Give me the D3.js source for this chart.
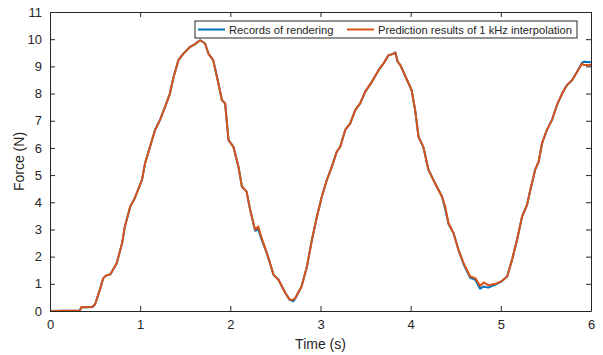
<!DOCTYPE html>
<html>
<head>
<meta charset="utf-8">
<script src="https://cdn.jsdelivr.net/npm/d3@7"></script>
<style>
  body { margin: 0; background: #fff; }
  text { font-family: Arial, "Liberation Sans", Helvetica, sans-serif; fill: #262626; }
</style>
</head>
<body>
<script>

// time samples (s)
var time = [0, 0.33, 0.35, 0.40, 0.47, 0.50, 0.55, 0.59, 0.62, 0.67, 0.74, 0.80, 0.83, 0.89, 0.94,
    1.02, 1.054, 1.11, 1.165, 1.22, 1.276, 1.33, 1.37, 1.424, 1.48, 1.554, 1.60, 1.665, 1.72, 1.757,
    1.81, 1.868, 1.906, 1.942, 1.98, 2.034, 2.09, 2.128, 2.18, 2.22, 2.275, 2.31, 2.35, 2.405, 2.48,
    2.534, 2.61, 2.66, 2.70, 2.72, 2.79, 2.85, 2.905, 2.96, 3.015, 3.07, 3.126, 3.18, 3.22, 3.274,
    3.33, 3.385, 3.44, 3.496, 3.57, 3.644, 3.70, 3.754, 3.80, 3.83, 3.856, 3.885, 3.92, 3.977, 4.01,
    4.05, 4.087, 4.14, 4.198, 4.27, 4.347, 4.383, 4.42, 4.476, 4.53, 4.587, 4.66, 4.717, 4.77, 4.81,
    4.86, 4.94, 5.01, 5.07, 5.124, 5.18, 5.235, 5.29, 5.327, 5.38, 5.42, 5.457, 5.51, 5.568, 5.623,
    5.68, 5.734, 5.79, 5.846, 5.90, 5.92, 6.0];

// Records of rendering (N)
var recorded = [0, 0.02, 0.15, 0.14, 0.15, 0.25, 0.75, 1.2, 1.3, 1.35, 1.76, 2.5, 3.1, 3.84, 4.15,
    4.82, 5.43, 6.05, 6.66, 7.03, 7.51, 8.0, 8.6, 9.23, 9.47, 9.72, 9.8, 9.96, 9.84, 9.47,
    9.23, 8.37, 7.76, 7.64, 6.29, 6.04, 5.31, 4.58, 4.39, 3.72, 2.95, 3.0, 2.6, 2.13, 1.33,
    1.15, 0.66, 0.41, 0.36, 0.46, 0.9, 1.64, 2.62, 3.47, 4.21, 4.82, 5.31, 5.86, 6.05, 6.66,
    6.9, 7.39, 7.64, 8.07, 8.43, 8.86, 9.11, 9.41, 9.45, 9.52, 9.17, 9.05, 8.8, 8.37, 8.13,
    7.39, 6.41, 6.04, 5.19, 4.7, 4.21, 3.75, 3.2, 2.86, 2.25, 1.72, 1.22, 1.15, 0.82, 0.9,
    0.86, 0.97, 1.09, 1.27, 1.88, 2.62, 3.47, 3.9, 4.45, 5.19, 5.5, 6.17, 6.66, 7.03, 7.58,
    8.0, 8.31, 8.49, 8.8, 9.13, 9.17, 9.15];

// Prediction results of 1 kHz interpolation (N)
var predicted = [0, 0.02, 0.15, 0.14, 0.15, 0.25, 0.75, 1.2, 1.3, 1.35, 1.76, 2.5, 3.1, 3.84, 4.15,
    4.82, 5.43, 6.05, 6.66, 7.03, 7.51, 8.0, 8.6, 9.23, 9.47, 9.72, 9.8, 9.96, 9.84, 9.47,
    9.23, 8.37, 7.76, 7.64, 6.29, 6.04, 5.31, 4.58, 4.39, 3.72, 2.99, 3.11, 2.66, 2.13, 1.33,
    1.15, 0.66, 0.41, 0.42, 0.48, 0.9, 1.64, 2.62, 3.47, 4.21, 4.82, 5.31, 5.86, 6.05, 6.66,
    6.9, 7.39, 7.64, 8.07, 8.43, 8.86, 9.11, 9.41, 9.45, 9.5, 9.17, 9.05, 8.8, 8.37, 8.13,
    7.39, 6.41, 6.04, 5.19, 4.7, 4.21, 3.84, 3.23, 2.86, 2.25, 1.76, 1.27, 1.21, 0.92, 1.05,
    0.95, 1.0, 1.1, 1.27, 1.88, 2.62, 3.47, 3.9, 4.45, 5.19, 5.5, 6.17, 6.66, 7.03, 7.58,
    8.0, 8.31, 8.49, 8.8, 9.1, 9.05, 9.05];

var seriesNames = ["Records of rendering", "Prediction results of 1 kHz interpolation"];
var xTicks = [0, 1, 2, 3, 4, 5, 6];
var yTicks = [0, 1, 2, 3, 4, 5, 6, 7, 8, 9, 10, 11];

var margin = {top: 12, right: 12, bottom: 44, left: 50},
    width = 603 - margin.left - margin.right,
    height = 355 - margin.top - margin.bottom;

var colors = ["#0072BD", "#D95319"];
var axisColor = "#262626";

var x = d3.scaleLinear().domain([0, 6]).range([0, width]);
var y = d3.scaleLinear().domain([0, 11]).range([height, 0]);

var svg = d3.select("body").append("svg")
    .attr("width", 603)
    .attr("height", 355);

var main = svg.append("g")
    .attr("transform", "translate(" + margin.left + "," + margin.top + ")");

var line = d3.line()
    .x(function(d) { return x(d[0]); })
    .y(function(d) { return y(d[1]); });

[recorded, predicted].forEach(function(vals, i) {
    var pts = time.map(function(t, j) { return [t, vals[j]]; });
    main.append("path")
	.datum(pts)
	.attr("fill", "none")
	.attr("stroke", colors[i])
	.attr("stroke-width", 2)
	.attr("stroke-linejoin", "round")
	.attr("d", line);
});

// axes, MATLAB-style with inward ticks
function styleAxis(g) {
    g.selectAll("path").attr("stroke", axisColor);
    g.selectAll("line").attr("stroke", axisColor);
    g.selectAll("text").attr("fill", axisColor).style("font-size", "13px")
	.style("font-family", "Arial, 'Liberation Sans', sans-serif");
}

main.append("g")
    .attr("transform", "translate(0," + height + ")")
    .call(d3.axisBottom(x).tickValues(xTicks).tickFormat(d3.format("d"))
	.tickSizeInner(-5).tickSizeOuter(0).tickPadding(9))
    .call(styleAxis);

main.append("g")
    .call(d3.axisLeft(y).tickValues(yTicks).tickFormat(d3.format("d"))
	.tickSizeInner(-5).tickSizeOuter(0).tickPadding(8))
    .call(styleAxis);

main.append("g")
    .call(d3.axisTop(x).tickValues(xTicks).tickSizeInner(-5).tickSizeOuter(0).tickFormat(""))
    .call(styleAxis);

main.append("g")
    .attr("transform", "translate(" + width + ",0)")
    .call(d3.axisRight(y).tickValues(yTicks).tickSizeInner(-5).tickSizeOuter(0).tickFormat(""))
    .call(styleAxis);

// axis labels
svg.append("text")
    .attr("x", margin.left + width / 2)
    .attr("y", 349)
    .attr("text-anchor", "middle")
    .style("font-size", "14px")
    .text("Time (s)");

svg.append("text")
    .attr("transform", "translate(24," + (margin.top + height / 2) + ") rotate(-90)")
    .attr("text-anchor", "middle")
    .style("font-size", "14px")
    .text("Force (N)");

// legend
var legend = svg.append("g").attr("transform", "translate(195,21)");

legend.append("rect")
    .attr("width", 382)
    .attr("height", 17)
    .attr("fill", "#fff")
    .attr("stroke", axisColor)
    .attr("stroke-width", 1);

var legendX = [3, 152];
seriesNames.forEach(function(name, i) {
    legend.append("line")
	.attr("x1", legendX[i]).attr("x2", legendX[i] + 27)
	.attr("y1", 8.5).attr("y2", 8.5)
	.attr("stroke", colors[i])
	.attr("stroke-width", 2);
    legend.append("text")
	.attr("x", legendX[i] + 31)
	.attr("y", 12.5)
	.style("font-size", "11.2px")
	.text(name);
});

</script>
</body>
</html>
